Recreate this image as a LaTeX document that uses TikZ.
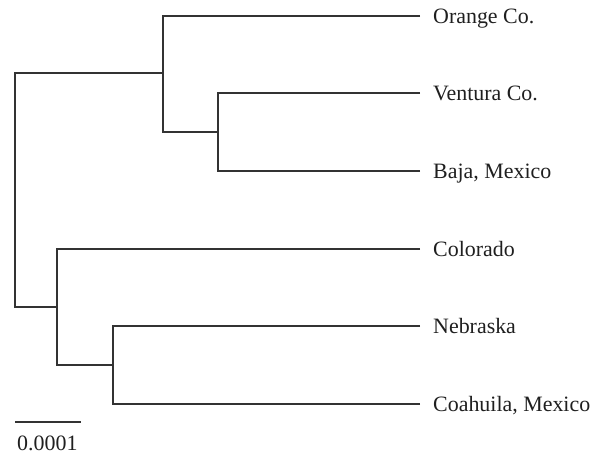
\documentclass[tikz,border=0pt]{standalone}
\usepackage{fontspec}
\setmainfont{Liberation Serif}
\begin{document}
\begin{tikzpicture}[x=1bp,y=-1bp,
  branch/.style={draw=black!80, line width=1.3bp},
  labelfont/.style={font=\fontsize{22}{24}\selectfont, text=black!88},
  taxon/.style={labelfont, anchor=west, inner xsep=13bp, inner ysep=0pt,
    text height=15bp, text depth=0pt}]
\useasboundingbox (0,0) rectangle (601,454);
% tips
\node[taxon] (orange)   at (420,16)  {Orange Co.};
\node[taxon] (ventura)  at (420,93)  {Ventura Co.};
\node[taxon] (baja)     at (420,171) {Baja, Mexico};
\node[taxon] (colorado) at (420,249) {Colorado};
\node[taxon] (nebraska) at (420,326) {Nebraska};
\node[taxon] (coahuila) at (420,404) {Coahuila, Mexico};
% internal nodes
\coordinate (nVB)   at (218,132);
\coordinate (nTop)  at (163,73);
\coordinate (nNC)   at (113,365);
\coordinate (nBot)  at (57,307);
\coordinate (nRoot) at (15,190);
% branches
\draw[branch] (ventura.west) -| (nVB);
\draw[branch] (baja.west) -| (nVB);
\draw[branch] (orange.west) -| (nTop);
\draw[branch] (nVB) -| (nTop);
\draw[branch] (nebraska.west) -| (nNC);
\draw[branch] (coahuila.west) -| (nNC);
\draw[branch] (colorado.west) -| (nBot);
\draw[branch] (nNC) -| (nBot);
\draw[branch] (nTop) -| (nRoot);
\draw[branch] (nBot) -| (nRoot);
% scale bar
\coordinate (sbL) at (15,422);
\coordinate (sbR) at (81,422);
\draw[branch] (sbL) -- (sbR);
\node[labelfont, anchor=base west, inner sep=0pt] (sblabel) at (17,450) {0.0001};
\end{tikzpicture}
\end{document}
